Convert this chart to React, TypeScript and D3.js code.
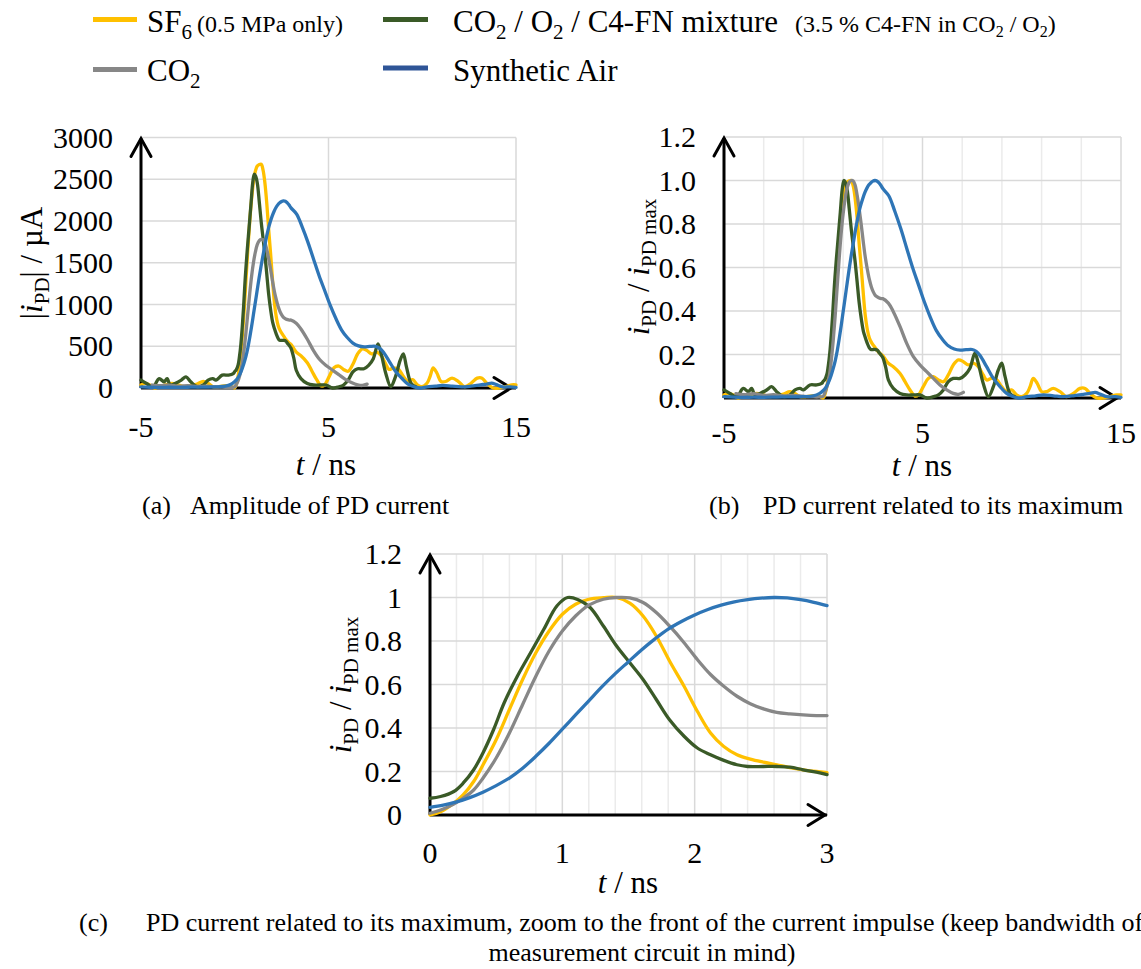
import React from 'react';
import * as d3 from 'd3';

type Pt = [number, number];

const FONT = '"Liberation Serif","Times New Roman",serif';
const GRID_MAJOR = '#D9D9D9';
const GRID_MINOR = '#EBEBEB';

// Series order: SF6, CO2/O2/C4-FN, CO2, Synthetic Air
const seriesColors = ['#FFC000', '#3A5A27', '#878787', '#2E75B6'];
const legendColors = ['#FFC000', '#3A5A27', '#878787', '#2F5597'];
// Peak PD current amplitude in µA (chart a)
const peakCurrent = [2680, 2560, 1780, 2240];

// Normalized PD current i/imax over time t (ns)
const sf6: Pt[] = [
  [-5.0, 0.014], [-4.78, 0.021], [-4.53, 0.014], [-4.28, 0.0], [-4.03, 0.006], [-3.69, 0.014], [-3.35, 0.021],
  [-3.02, 0.014], [-2.68, 0.006], [-2.35, 0.011], [-2.01, 0.018], [-1.68, 0.029], [-1.42, 0.021], [-1.17, 0.006],
  [-0.84, 0.006], [-0.5, 0.011], [-0.2, 0.008],
  [0, 0.0], [0.08, 0.015], [0.18, 0.054], [0.25, 0.092], [0.33, 0.154], [0.4, 0.23], [0.5, 0.346], [0.6, 0.485],
  [0.7, 0.623], [0.8, 0.746], [0.9, 0.846], [1.0, 0.923], [1.1, 0.969], [1.2, 0.992], [1.31, 0.999], [1.41, 1.0],
  [1.51, 0.974], [1.61, 0.915], [1.71, 0.823], [1.81, 0.708], [1.92, 0.592], [2.02, 0.477], [2.12, 0.377],
  [2.22, 0.315], [2.32, 0.277], [2.42, 0.257], [2.52, 0.243], [2.62, 0.231], [2.72, 0.218], [2.82, 0.208],
  [2.92, 0.2], [3.0, 0.195],
  [3.28, 0.16], [3.53, 0.144], [3.87, 0.113], [4.12, 0.075], [4.37, 0.037], [4.62, 0.009], [4.79, 0.014],
  [5.04, 0.052], [5.29, 0.09], [5.55, 0.098], [5.8, 0.083], [6.05, 0.075], [6.3, 0.106], [6.55, 0.152],
  [6.81, 0.175], [7.06, 0.167], [7.31, 0.152], [7.56, 0.16], [7.81, 0.144], [8.06, 0.106], [8.23, 0.083],
  [8.48, 0.09], [8.74, 0.083], [8.99, 0.052], [9.24, 0.029], [9.49, 0.037], [9.74, 0.014], [9.99, 0.006],
  [10.25, 0.021], [10.42, 0.052], [10.58, 0.09], [10.78, 0.067], [11.0, 0.029], [11.25, 0.029], [11.59, 0.044],
  [11.93, 0.029], [12.26, 0.006], [12.6, 0.021], [12.93, 0.044], [13.19, 0.044], [13.44, 0.021], [13.77, 0.0],
  [14.11, 0.0], [14.45, 0.006], [14.78, 0.014], [15.0, 0.014],
];

const c4fn: Pt[] = [
  [-5.0, 0.037], [-4.7, 0.021], [-4.36, 0.006], [-4.03, 0.044], [-3.77, 0.029], [-3.61, 0.044], [-3.44, 0.014],
  [-3.19, 0.021], [-2.85, 0.037], [-2.6, 0.052], [-2.35, 0.029], [-2.01, 0.006], [-1.68, 0.014], [-1.42, 0.037],
  [-1.17, 0.044], [-1.0, 0.037], [-0.67, 0.06], [-0.33, 0.06], [-0.08, 0.067],
  [0, 0.077], [0.08, 0.085], [0.18, 0.108], [0.25, 0.146], [0.33, 0.208], [0.4, 0.285], [0.48, 0.392],
  [0.56, 0.515], [0.66, 0.638], [0.76, 0.746], [0.86, 0.854], [0.96, 0.962], [1.04, 1.0], [1.12, 0.99],
  [1.21, 0.954], [1.31, 0.869], [1.41, 0.777], [1.51, 0.7], [1.61, 0.623], [1.71, 0.531], [1.81, 0.438],
  [1.92, 0.362], [2.02, 0.308], [2.12, 0.277], [2.22, 0.251], [2.32, 0.231], [2.4, 0.223], [2.52, 0.223],
  [2.62, 0.223], [2.72, 0.22], [2.82, 0.208], [2.92, 0.197], [3.0, 0.186],
  [3.15, 0.14], [3.28, 0.083], [3.53, 0.044], [3.87, 0.021], [4.2, 0.014], [4.54, 0.014], [4.87, 0.014],
  [5.21, 0.0], [5.55, 0.006], [5.8, 0.014], [6.05, 0.037], [6.3, 0.075], [6.55, 0.09], [6.89, 0.09],
  [7.14, 0.106], [7.39, 0.137], [7.64, 0.206], [7.81, 0.16], [8.06, 0.067], [8.32, 0.006], [8.57, 0.052],
  [8.82, 0.129], [8.99, 0.16], [9.16, 0.098], [9.41, 0.021], [9.66, 0.006],
];

const co2: Pt[] = [
  [-4.4, 0.02], [-4.0, 0.015], [-3.5, 0.02], [-3.0, 0.012], [-2.5, 0.015], [-2.0, 0.01], [-1.5, 0.012],
  [-1.0, 0.008], [-0.5, 0.005], [-0.2, 0.005],
  [0, 0.008], [0.08, 0.023], [0.18, 0.05], [0.25, 0.077], [0.33, 0.115], [0.4, 0.169], [0.5, 0.262],
  [0.6, 0.377], [0.7, 0.508], [0.8, 0.638], [0.9, 0.754], [1.0, 0.846], [1.1, 0.915], [1.2, 0.965],
  [1.31, 0.992], [1.41, 1.0], [1.51, 0.998], [1.61, 0.977], [1.71, 0.931], [1.81, 0.869], [1.92, 0.792],
  [2.02, 0.715], [2.12, 0.646], [2.22, 0.592], [2.32, 0.546], [2.42, 0.512], [2.52, 0.488], [2.62, 0.472],
  [2.72, 0.465], [2.82, 0.46], [2.92, 0.457], [3.0, 0.457],
  [3.28, 0.436], [3.53, 0.397], [3.87, 0.328], [4.2, 0.252], [4.54, 0.19], [4.87, 0.152], [5.21, 0.121],
  [5.55, 0.09], [5.88, 0.06], [6.22, 0.037], [6.55, 0.021], [6.81, 0.017], [7.06, 0.026],
];

const air: Pt[] = [
  [-5.0, 0.006], [-4.5, 0.004], [-4.0, 0.003], [-3.5, 0.004], [-3.0, 0.003], [-2.5, 0.004], [-2.0, 0.005],
  [-1.5, 0.005], [-1.0, 0.006], [-0.5, 0.01], [-0.2, 0.02],
  [0, 0.035], [0.1, 0.045], [0.2, 0.06], [0.3, 0.08], [0.4, 0.105], [0.5, 0.135], [0.6, 0.17], [0.7, 0.215],
  [0.8, 0.27], [0.9, 0.33], [1.0, 0.395], [1.1, 0.46], [1.2, 0.525], [1.3, 0.59], [1.4, 0.65], [1.5, 0.705],
  [1.6, 0.76], [1.7, 0.81], [1.8, 0.855], [1.9, 0.89], [2.0, 0.92], [2.1, 0.945], [2.2, 0.965], [2.3, 0.98],
  [2.4, 0.99], [2.5, 0.997], [2.6, 1.0], [2.7, 0.998], [2.8, 0.99], [2.9, 0.978], [3.0, 0.963],
  [3.3, 0.93], [3.6, 0.86], [3.9, 0.78], [4.2, 0.69], [4.5, 0.6], [4.8, 0.52], [5.1, 0.44], [5.4, 0.37],
  [5.7, 0.31], [6.0, 0.27], [6.3, 0.24], [6.6, 0.225], [6.9, 0.22], [7.2, 0.222], [7.5, 0.223], [7.7, 0.215],
  [7.9, 0.195], [8.23, 0.144], [8.57, 0.09], [8.91, 0.052], [9.24, 0.021], [9.58, 0.006], [9.91, 0.0],
  [10.25, 0.006], [10.7, 0.01], [11.09, 0.014], [11.6, 0.01], [12.1, 0.006], [12.6, 0.01], [13.1, 0.017],
  [13.44, 0.021], [13.7, 0.026], [13.95, 0.018], [14.28, 0.006], [14.7, 0.006], [15.0, 0.003],
];

const allSeries = [sf6, c4fn, co2, air];

// Axis ticks and labels
const ampTicks = [0, 500, 1000, 1500, 2000, 2500, 3000];
const ampTickLabels = ['0', '500', '1000', '1500', '2000', '2500', '3000'];
const normTicks = [0, 0.2, 0.4, 0.6, 0.8, 1.0, 1.2];
const normTickLabelsB = ['0.0', '0.2', '0.4', '0.6', '0.8', '1.0', '1.2'];
const normTickLabelsC = ['0', '0.2', '0.4', '0.6', '0.8', '1', '1.2'];
const wideTimeTicks = [-5, 5, 15];
const wideTimeTickLabels = ['-5', '5', '15'];
const wideTimeMinor = [-3, -1, 1, 3, 7, 9, 11, 13];
const zoomTimeTicks = [0, 1, 2, 3];
const zoomTimeTickLabels = ['0', '1', '2', '3'];
const zoomTimeMinor = [0.2, 0.4, 0.6, 0.8, 1.2, 1.4, 1.6, 1.8, 2.2, 2.4, 2.6, 2.8];

interface PanelProps {
  xDomain: [number, number];
  xRange: [number, number];
  yDomain: [number, number];
  yRange: [number, number];
  hGrid: number[];
  vMajor: number[];
  vMinor: number[];
  yTicks: number[];
  yTickLabels: string[];
  xTicks: number[];
  xTickLabels: string[];
  xLabelY: number;
  factors: number[];
  xArrowTip: number;
}

function Panel(p: PanelProps) {
  const x = d3.scaleLinear().domain(p.xDomain).range(p.xRange);
  const y = d3.scaleLinear().domain(p.yDomain).range(p.yRange);
  const line = d3
    .line<Pt>()
    .x((d) => x(d[0]))
    .y((d) => y(d[1]))
    .curve(d3.curveCatmullRom.alpha(0.5));
  const [x0, x1] = p.xRange;
  const [y0, y1] = p.yRange;
  const tip = p.xArrowTip;
  return (
    <g>
      {p.vMinor.map((v) => (
        <line key={'vm' + v} x1={x(v)} x2={x(v)} y1={y0} y2={y1} stroke={GRID_MINOR} strokeWidth={1.5} />
      ))}
      {p.vMajor.map((v) => (
        <line key={'vM' + v} x1={x(v)} x2={x(v)} y1={y0} y2={y1} stroke={GRID_MAJOR} strokeWidth={1.5} />
      ))}
      {p.hGrid.map((v) => (
        <line key={'h' + v} x1={x0} x2={x1} y1={y(v)} y2={y(v)} stroke={GRID_MAJOR} strokeWidth={1.5} />
      ))}
      <line x1={x0} x2={x0} y1={y0} y2={y1 + 1} stroke="#000" strokeWidth={3} />
      <line x1={x0} x2={x1} y1={y0} y2={y0} stroke="#000" strokeWidth={3} />
      <path
        d={`M${x0 - 10},${y1 + 19}L${x0},${y1 + 1}L${x0 + 10},${y1 + 19}`}
        fill="none"
        stroke="#000"
        strokeWidth={3}
        strokeLinecap="round"
      />
      <path
        d={`M${tip - 17},${y0 - 10.5}L${tip},${y0}L${tip - 17},${y0 + 10.5}`}
        fill="none"
        stroke="#000"
        strokeWidth={3}
        strokeLinecap="round"
      />
      {allSeries.map((s, i) => {
        const pts: Pt[] = s
          .filter((d) => d[0] >= p.xDomain[0] && d[0] <= p.xDomain[1])
          .map((d) => [d[0], d[1] * p.factors[i]] as Pt);
        return (
          <path
            key={'s' + i}
            d={line(pts) || ''}
            fill="none"
            stroke={seriesColors[i]}
            strokeWidth={3.3}
            strokeLinejoin="round"
            strokeLinecap="round"
          />
        );
      })}
      {p.yTicks.map((v, i) => (
        <text key={'yt' + v} x={x0 - 28} y={y(v)} dy="0.34em" textAnchor="end" fontSize={30}>
          {p.yTickLabels[i]}
        </text>
      ))}
      {p.xTicks.map((v, i) => (
        <text key={'xt' + v} x={x(v)} y={p.xLabelY} dy="0.34em" textAnchor="middle" fontSize={30}>
          {p.xTickLabels[i]}
        </text>
      ))}
    </g>
  );
}

function TimeTitle({ x, y }: { x: number; y: number }) {
  return (
    <text x={x} y={y} dy="0.3em" textAnchor="middle" fontSize={31}>
      <tspan fontStyle="italic">t</tspan> / ns
    </text>
  );
}

function NormTitle({ x, y }: { x: number; y: number }) {
  return (
    <text x={x} y={y} textAnchor="middle" fontSize={31} transform={`rotate(-90, ${x}, ${y})`}>
      <tspan fontStyle="italic">i</tspan>
      <tspan fontSize={21} dy={7}>PD</tspan>
      <tspan dy={-7}> / </tspan>
      <tspan fontStyle="italic">i</tspan>
      <tspan fontSize={21} dy={7}>PD max</tspan>
    </text>
  );
}

export default function App() {
  const ones = [1, 1, 1, 1];
  return (
    <svg
      width={1141}
      height={969}
      style={{ position: 'absolute', left: 0, top: 0, background: '#fff', fontFamily: FONT }}
      fontFamily={FONT}
    >
      <rect width={1141} height={969} fill="#fff" />
      {/* Legend */}
      <line x1={93} x2={137} y1={19.5} y2={19.5} stroke={legendColors[0]} strokeWidth={5} />
      <text x={147} y={31.5} fontSize={31}>
        SF<tspan fontSize={21} dy={7}>6</tspan>
      </text>
      <text x={197} y={31.5} fontSize={24}>(0.5 MPa only)</text>
      <line x1={383} x2={428} y1={19.5} y2={19.5} stroke={legendColors[1]} strokeWidth={5} />
      <text x={453} y={31.5} fontSize={31}>
        CO<tspan fontSize={21} dy={7}>2</tspan>
        <tspan dy={-7}> / O</tspan>
        <tspan fontSize={21} dy={7}>2</tspan>
        <tspan dy={-7}> / C4-FN mixture</tspan>
      </text>
      <text x={795} y={31.5} fontSize={24}>
        (3.5 % C4-FN in CO<tspan fontSize={16} dy={5}>2</tspan>
        <tspan dy={-5}> / O</tspan>
        <tspan fontSize={16} dy={5}>2</tspan>
        <tspan dy={-5}>)</tspan>
      </text>
      <line x1={93} x2={137} y1={69.5} y2={69.5} stroke={legendColors[2]} strokeWidth={5} />
      <text x={147} y={81} fontSize={31}>
        CO<tspan fontSize={21} dy={7}>2</tspan>
      </text>
      <line x1={383} x2={428} y1={68} y2={68} stroke={legendColors[3]} strokeWidth={5} />
      <text x={453} y={81} fontSize={31}>Synthetic Air</text>

      {/* (a) Amplitude */}
      <Panel
        xDomain={[-5, 15]}
        xRange={[141, 516]}
        yDomain={[0, 3000]}
        yRange={[388, 137.5]}
        hGrid={ampTicks.slice(1)}
        vMajor={[5, 15]}
        vMinor={[]}
        yTicks={ampTicks}
        yTickLabels={ampTickLabels}
        xTicks={wideTimeTicks}
        xTickLabels={wideTimeTickLabels}
        xLabelY={427}
        factors={peakCurrent}
        xArrowTip={511}
      />
      <text x={42} y={263} textAnchor="middle" fontSize={31} transform="rotate(-90, 42, 263)">
        |<tspan fontStyle="italic">i</tspan>
        <tspan fontSize={21} dy={7}>PD</tspan>
        <tspan dy={-7}>| / µA</tspan>
      </text>
      <TimeTitle x={326} y={466} />
      <text x={142} y={514} fontSize={26}>(a)</text>
      <text x={190} y={514} fontSize={26}>Amplitude of PD current</text>

      {/* (b) Normalized */}
      <Panel
        xDomain={[-5, 15]}
        xRange={[724, 1121]}
        yDomain={[0, 1.2]}
        yRange={[398, 137]}
        hGrid={normTicks.slice(1)}
        vMajor={[5, 15]}
        vMinor={wideTimeMinor}
        yTicks={normTicks}
        yTickLabels={normTickLabelsB}
        xTicks={wideTimeTicks}
        xTickLabels={wideTimeTickLabels}
        xLabelY={433}
        factors={ones}
        xArrowTip={1117}
      />
      <NormTitle x={649} y={267} />
      <TimeTitle x={922} y={467} />
      <text x={709} y={514} fontSize={26}>(b)</text>
      <text x={763} y={514} fontSize={26}>PD current related to its maximum</text>

      {/* (c) Zoom to impulse front */}
      <Panel
        xDomain={[0, 3]}
        xRange={[430, 827]}
        yDomain={[0, 1.2]}
        yRange={[815, 554]}
        hGrid={normTicks.slice(1)}
        vMajor={[1, 2, 3]}
        vMinor={zoomTimeMinor}
        yTicks={normTicks}
        yTickLabels={normTickLabelsC}
        xTicks={zoomTimeTicks}
        xTickLabels={zoomTimeTickLabels}
        xLabelY={853}
        factors={ones}
        xArrowTip={825}
      />
      <NormTitle x={351} y={685} />
      <TimeTitle x={628} y={884} />
      <text x={79} y={931} fontSize={26}>(c)</text>
      <text x={146} y={931} fontSize={26}>
        PD current related to its maximum, zoom to the front of the current impulse (keep bandwidth of the
      </text>
      <text x={642} y={961} textAnchor="middle" fontSize={26}>
        measurement circuit in mind)
      </text>
    </svg>
  );
}
